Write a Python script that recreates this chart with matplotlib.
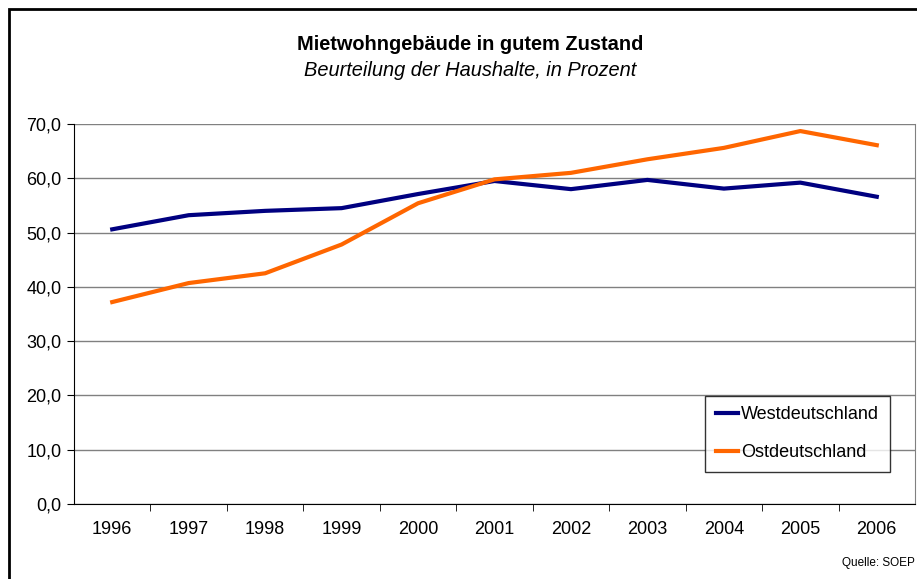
import matplotlib.pyplot as plt
from matplotlib.patches import Rectangle

years = ['1996', '1997', '1998', '1999', '2000', '2001', '2002', '2003', '2004', '2005', '2006']
west = [50.6, 53.2, 54.0, 54.5, 57.1, 59.5, 58.0, 59.7, 58.1, 59.2, 56.6]
east = [37.2, 40.7, 42.5, 47.8, 55.4, 59.8, 61.0, 63.5, 65.6, 68.7, 66.1]
yticks = [0, 10, 20, 30, 40, 50, 60, 70]

plt.rcParams['font.family'] = ['Liberation Sans', 'DejaVu Sans']

W, H = 917, 579
fig = plt.figure(figsize=(W / 100, H / 100), dpi=100)
ax = fig.add_axes([74 / W, 1 - 504 / H, (915 - 74) / W, (504 - 124) / H])

x = list(range(len(years)))
ax.plot(x, west, color='#000080', linewidth=3, label='Westdeutschland', solid_joinstyle='round')
ax.plot(x, east, color='#FF6600', linewidth=3, label='Ostdeutschland', solid_joinstyle='round')

ax.set_xlim(-0.5, len(years) - 0.5)
ax.set_ylim(0, 70)
ax.set_yticks(yticks)
ax.set_yticklabels([f'{v:.1f}'.replace('.', ',') for v in yticks], fontsize=13)
ax.set_xticks(x)
ax.set_xticklabels(years, fontsize=13)
ax.tick_params(axis='x', length=0, pad=12)
ax.tick_params(axis='y', length=5, direction='out', pad=4)
# category boundary ticks
ax.set_xticks([i + 0.5 for i in x[:-1]], minor=True)
ax.tick_params(axis='x', which='minor', length=5, direction='out')

ax.grid(axis='y', color='#808080', linewidth=1)
ax.set_axisbelow(True)
ax.spines['top'].set_visible(False)
ax.spines['right'].set_color('#808080')
ax.spines['left'].set_color('black')
ax.spines['bottom'].set_color('black')

leg = ax.legend(loc='lower right', bbox_to_anchor=((890 - 74) / (915 - 74), (504 - 472) / (504 - 124)),
                borderaxespad=0, fontsize=13, frameon=True, fancybox=False, edgecolor='black',
                handlelength=1.2, handletextpad=0.2, labelspacing=1.15, borderpad=0.6)
leg.get_frame().set_linewidth(1)

cx = 0.5 * (297 + 643) / W
fig.text(cx, 1 - 45 / H, 'Mietwohngebäude in gutem Zustand',
         ha='center', va='center', fontsize=14.4, fontweight='bold')
fig.text(cx, 1 - 71 / H, 'Beurteilung der Haushalte, in Prozent',
         ha='center', va='center', fontsize=14.4, style='italic')
fig.text(915 / W, 1 - 563 / H, 'Quelle: SOEP', ha='right', va='center', fontsize=8.5)

fig.patches.append(Rectangle((9 / W, -0.1), 1.2, 1 - 9 / H + 0.1, transform=fig.transFigure,
                             fill=False, edgecolor='black', linewidth=2))

fig.savefig('out.png', dpi=100)
